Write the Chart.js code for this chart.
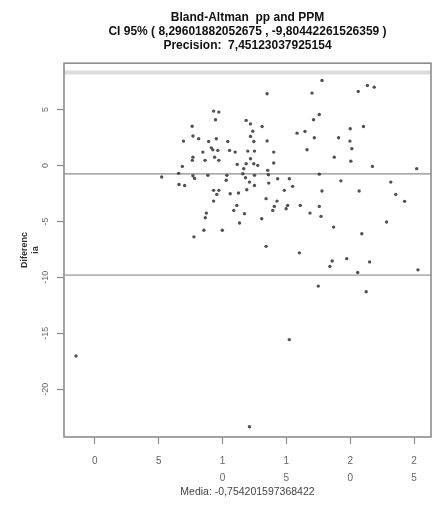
<!DOCTYPE html>
<html>
<head>
<meta charset="utf-8">
<title>Bland-Altman pp and PPM</title>
<script src="https://cdn.jsdelivr.net/npm/chart.js"></script>
<style>
  body { margin: 0; background: #fff; }
</style>
</head>
<body>
<canvas id="chart-ba" width="435" height="514"></canvas>
<script>
var mediaPares = [
  13.49, 9.30, 9.71, 9.45, 11.85, 12.19, 13.10, 7.62, 7.68, 8.13,
  6.94, 8.91, 9.51, 10.41, 12.37, 12.19, 12.45, 13.49, 9.12, 9.24,
  9.63, 8.46, 10.55, 10.99, 11.98, 12.50, 14.01, 7.68, 7.63, 9.38,
  9.71, 8.63, 12.19, 11.15, 11.85, 12.45, 12.76, 14.01, 6.85, 11.66,
  13.54, 5.23, 6.56, 7.68, 8.85, 10.34, 11.59, 12.50, 13.59, 6.59,
  7.03, 7.81, 10.29, 11.80, 12.11, 12.50, 13.62, 14.32, 15.23, 15.49,
  14.84, 9.30, 9.71, 9.55, 10.60, 11.25, 11.90, 9.30, 11.12, 10.88,
  11.72, 11.33, 8.73, 8.65, 8.54, 7.76, 9.98, 13.41, 14.27, 14.06,
  13.93, 15.10, 14.98, 16.09, 16.85, 17.58, 17.71, 17.79, 17.58, 19.27,
  20.70, 18.70, 20.91, 13.07, 13.41, 16.02, 23.18, 23.57, 24.26, 22.85,
  18.59, 18.41, 19.73, 21.52, 20.59, 25.31, 17.50, 21.25, 15.23, 12.11,
  -1.48, 17.79, 17.01, 20.63, 21.35, 21.88, 17.58, 17.13, 15.84, 16.46,
  17.19, 16.62, 20.00, 21.04, 19.09, 19.98, 20.13, 18.75, 20.05, 21.74,
  25.21
];
var diferencia = [
  6.40, 4.85, 4.76, 4.08, 4.02, 3.71, 3.48, 3.50, 2.63, 2.38,
  2.17, 2.14, 2.38, 2.14, 3.06, 2.59, 2.14, 2.19, 1.57, 1.39,
  1.34, 1.19, 1.34, 1.19, 1.28, 1.28, 1.19, 0.74, 0.45, 0.74,
  0.45, 0.45, 0.60, 0.09, 0.15, 0.15, 0.00, 0.21, -0.09, -0.29,
  -0.44, -1.03, -0.71, -0.93, -0.89, -0.89, -0.74, -0.89, -0.83, -1.70,
  -1.79, -1.16, -1.33, -1.10, -1.49, -1.79, -1.58, -1.19, -1.19, -1.87,
  -2.23, -2.23, -2.23, -2.59, -2.53, -2.47, -2.17, -3.19, -3.57, -4.02,
  -4.31, -5.15, -4.26, -4.67, -5.79, -6.38, -5.79, -2.97, -3.19, -3.66,
  -4.02, -3.57, -3.87, -3.57, -4.26, -3.66, -4.55, -2.29, -0.78, -1.38,
  -2.29, -5.51, -6.10, -4.76, -7.23, -7.81, -1.49, -2.59, -3.21, -5.06,
  -8.54, -9.02, -8.33, -8.62, -9.57, -9.33, -10.78, -11.29, -15.56, -23.35,
  -17.03, 7.59, 6.46, 6.61, 7.14, 6.99, 4.55, 4.08, 2.88, 3.04,
  2.47, 1.40, 3.28, 3.48, 2.47, 2.17, 1.49, 0.74, 0.38, -0.09,
  -0.29
];

var mediaDif = -0.754201597368422;
var limSup = 8.29601882052675;
var limInf = -9.80442261526359;

var xLim = [-2.42, 26.33];
var yLim = [-24.26, 9.13];

var titulo = [
  'Bland-Altman  pp and PPM',
  'CI 95% ( 8,29601882052675 , -9,80442261526359 )',
  'Precision:  7,45123037925154'
];

var puntos = mediaPares.map(function (m, i) { return { x: m, y: diferencia[i] }; });

function lineaH(valor) {
  return [{ x: xLim[0], y: valor }, { x: xLim[1], y: valor }];
}

Chart.defaults.font.family = "'Liberation Sans', Arial, sans-serif";

// marco alrededor del area del grafico, como en R
var marco = {
  id: 'marco',
  afterDraw: function (chart) {
    var a = chart.chartArea;
    var c = chart.ctx;
    c.save();
    c.strokeStyle = '#8c8c8c';
    c.lineWidth = 1.6;
    c.strokeRect(a.left, a.top, a.right - a.left, a.bottom - a.top);
    c.restore();
  }
};

var ctx = document.getElementById('chart-ba').getContext('2d');
var chart = new Chart(ctx, {
  type: 'scatter',
  data: {
    datasets: [
      {
        label: 'Diferencia',
        data: puntos,
        backgroundColor: 'rgba(50,50,50,0.85)',
        borderWidth: 0,
        pointRadius: 1.7,
        order: 1
      },
      {
        label: 'Media',
        data: lineaH(mediaDif),
        showLine: true,
        borderColor: '#8a8a8a',
        borderWidth: 1.2,
        pointRadius: 0,
        order: 2
      },
      {
        label: 'Limite superior',
        data: lineaH(limSup),
        showLine: true,
        borderColor: '#dcdcdc',
        borderWidth: 4,
        pointRadius: 0,
        order: 3
      },
      {
        label: 'Limite inferior',
        data: lineaH(limInf),
        showLine: true,
        borderColor: '#b4b4b4',
        borderWidth: 1.8,
        pointRadius: 0,
        order: 3
      }
    ]
  },
  options: {
    responsive: false,
    animation: false,
    devicePixelRatio: 1,
    layout: { padding: { left: 0, right: 3, top: 0, bottom: 0 } },
    scales: {
      x: {
        type: 'linear',
        min: xLim[0],
        max: xLim[1],
        afterFit: function (scale) { scale.height = 77; },
        border: { display: false },
        grid: {
          drawOnChartArea: false,
          tickLength: 7,
          tickColor: '#8c8c8c',
          tickWidth: 1.2
        },
        ticks: {
          stepSize: 5,
          includeBounds: false,
          maxRotation: 0,
          padding: 8.5,
          color: '#666',
          font: { size: 10, lineHeight: 1.7 },
          callback: function (v) {
            var s = String(v);
            return s.length > 1 ? s.split('') : s;
          }
        },
        title: {
          display: true,
          text: 'Media: -0,754201597368422',
          color: '#444',
          font: { size: 10.5 },
          padding: { top: 0, bottom: 15.5 }
        }
      },
      y: {
        type: 'linear',
        min: yLim[0],
        max: yLim[1],
        afterFit: function (scale) { scale.width = 64; },
        border: { display: false },
        grid: {
          drawOnChartArea: false,
          tickLength: 7,
          tickColor: '#8c8c8c',
          tickWidth: 1.2
        },
        ticks: {
          stepSize: 5,
          includeBounds: false,
          minRotation: 90,
          maxRotation: 90,
          crossAlign: 'center',
          padding: 5,
          color: '#666',
          font: { size: 9 }
        },
        title: {
          display: true,
          text: ['Diferenc', 'ia'],
          color: '#333',
          font: { size: 9, weight: 'bold' },
          padding: { top: 19.5, bottom: 0 }
        }
      }
    },
    plugins: {
      legend: { display: false },
      tooltip: { enabled: false },
      title: {
        display: true,
        fullSize: false,
        text: titulo,
        color: '#111',
        font: { size: 12, weight: 'bold', lineHeight: 1.2 },
        padding: { top: 10, bottom: 10 }
      }
    }
  },
  plugins: [marco]
});
</script>
</body>
</html>
